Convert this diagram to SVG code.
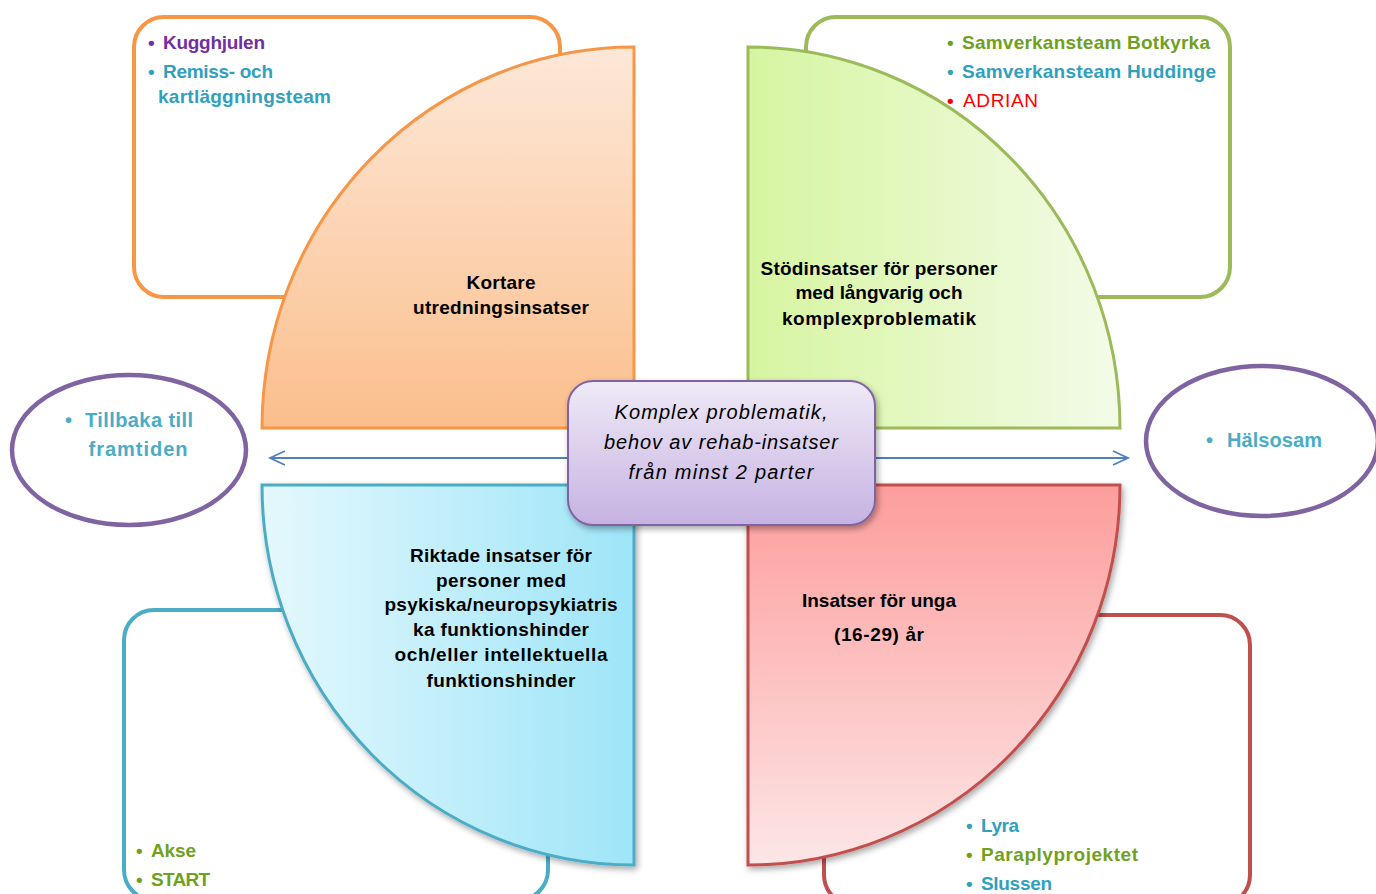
<svg xmlns="http://www.w3.org/2000/svg" width="1376" height="894" viewBox="0 0 1376 894">
<defs>
<style>
.t{font-family:"Liberation Sans",Arial,sans-serif;font-weight:bold;font-size:19px}
.q{font-family:"Liberation Sans",Arial,sans-serif;font-weight:bold;font-size:19px;fill:#000}
.c{font-family:"Liberation Sans",Arial,sans-serif;font-style:italic;font-size:20px;fill:#000}
.e{font-family:"Liberation Sans",Arial,sans-serif;font-weight:bold;font-size:20px;fill:#4BACC6}
.box{fill:#fff;stroke-width:4}
.ell{fill:#fff;stroke:#8064A2;stroke-width:4.5}
.purple{fill:#7030A0}.teal{fill:#31A0BE}.green{fill:#6FA11E}.red{fill:#FF0000}
</style>
<linearGradient id="gOr" x1="0" y1="0" x2="0" y2="1"><stop offset="0" stop-color="#FDE8D8"/><stop offset="1" stop-color="#FBBE8C"/></linearGradient>
<linearGradient id="gGr" x1="0" y1="0" x2="1" y2="0"><stop offset="0" stop-color="#D6F5A0"/><stop offset="1" stop-color="#F3FBE8"/></linearGradient>
<linearGradient id="gBl" x1="0" y1="0" x2="1" y2="0"><stop offset="0" stop-color="#E4F8FD"/><stop offset="1" stop-color="#9EE5F8"/></linearGradient>
<linearGradient id="gRd" x1="0" y1="0" x2="0" y2="1"><stop offset="0" stop-color="#FD9D9C"/><stop offset="1" stop-color="#FDE6E6"/></linearGradient>
<linearGradient id="gPu" x1="0" y1="0" x2="0" y2="1"><stop offset="0" stop-color="#EFEAF7"/><stop offset="1" stop-color="#C6B2E2"/></linearGradient>
<filter id="sh" x="-10%" y="-10%" width="125%" height="125%"><feDropShadow dx="2" dy="3" stdDeviation="3" flood-color="#000" flood-opacity="0.35"/></filter>
<marker id="ah" markerWidth="20" markerHeight="20" refX="16" refY="8" orient="auto-start-reverse" markerUnits="userSpaceOnUse"><path d="M1,1 L16,8 L1,15" fill="none" stroke="#4F81BD" stroke-width="1.8"/></marker>
</defs>

<g id="box-top-left"><rect class="box" x="134" y="17" width="426" height="280" rx="30" stroke="#F79646"/></g>
<g id="box-top-right"><rect class="box" x="806" y="17" width="424" height="280" rx="30" stroke="#9BBB59"/></g>
<g id="box-bottom-left"><rect class="box" x="124" y="610" width="424" height="290" rx="30" stroke="#4BACC6"/></g>
<g id="box-bottom-right"><rect class="box" x="824" y="615" width="426" height="290" rx="30" stroke="#C0504D"/></g>

<g id="quad-orange"><path d="M634 428 L262 428 A372 381 0 0 1 634 47 Z" fill="url(#gOr)" stroke="#F79646" stroke-width="3"/></g>
<g id="quad-green"><path d="M748 428 L748 47 A372 381 0 0 1 1120 428 Z" fill="url(#gGr)" stroke="#9BBB59" stroke-width="3"/></g>
<g id="quad-blue" filter="url(#sh)"><path d="M634 485 L634 865 A372 380 0 0 1 262 485 Z" fill="url(#gBl)" stroke="#4BACC6" stroke-width="3"/></g>
<g id="quad-red" filter="url(#sh)"><path d="M748 485 L1120 485 A372 380 0 0 1 748 865 Z" fill="url(#gRd)" stroke="#C0504D" stroke-width="3"/></g>

<g id="ellipse-left"><ellipse class="ell" cx="129" cy="450" rx="117" ry="75"/></g>
<g id="ellipse-right"><ellipse class="ell" cx="1262" cy="441" rx="116" ry="75"/></g>

<g id="connectors">
<line x1="568" y1="458" x2="270" y2="458" stroke="#4F81BD" stroke-width="1.8" marker-end="url(#ah)"/>
<line x1="875" y1="458" x2="1128" y2="458" stroke="#4F81BD" stroke-width="1.8" marker-end="url(#ah)"/>
</g>

<g id="center" filter="url(#sh)"><rect x="568" y="381" width="307" height="144" rx="25" fill="url(#gPu)" stroke="#8064A2" stroke-width="2"/></g>
<g id="center-text">
<text class="c" x="721" y="419" text-anchor="middle" textLength="213" lengthAdjust="spacing">Komplex problematik,</text>
<text class="c" x="721" y="449" text-anchor="middle" textLength="234" lengthAdjust="spacing">behov av rehab-insatser</text>
<text class="c" x="721" y="479" text-anchor="middle" textLength="185" lengthAdjust="spacing">från minst 2 parter</text>
</g>

<g id="text-top-left">
<text class="t purple" x="148" y="49">•</text>
<text class="t purple" x="163" y="49" textLength="102" lengthAdjust="spacing">Kugghjulen</text>
<text class="t teal" x="148" y="78">•</text>
<text class="t teal" x="163" y="78" textLength="110" lengthAdjust="spacing">Remiss- och</text>
<text class="t teal" x="158" y="103" textLength="173" lengthAdjust="spacing">kartläggningsteam</text>
</g>
<g id="text-top-right">
<text class="t green" x="947" y="49">•</text>
<text class="t green" x="962" y="49" textLength="248" lengthAdjust="spacing">Samverkansteam Botkyrka</text>
<text class="t teal" x="947" y="78">•</text>
<text class="t teal" x="962" y="78" textLength="254" lengthAdjust="spacing">Samverkansteam Huddinge</text>
<text class="t red" x="947" y="107">•</text>
<text class="t red" x="963" y="107" style="font-weight:normal" textLength="75" lengthAdjust="spacing">ADRIAN</text>
</g>
<g id="text-bottom-left">
<text class="t green" x="136" y="857">•</text>
<text class="t green" x="151" y="857" textLength="45" lengthAdjust="spacing">Akse</text>
<text class="t green" x="136" y="886">•</text>
<text class="t green" x="151" y="886" textLength="59" lengthAdjust="spacing">START</text>
</g>
<g id="text-bottom-right">
<text class="t teal" x="966" y="832">•</text>
<text class="t teal" x="981" y="832" textLength="38" lengthAdjust="spacing">Lyra</text>
<text class="t green" x="966" y="861">•</text>
<text class="t green" x="981" y="861" textLength="157" lengthAdjust="spacing">Paraplyprojektet</text>
<text class="t teal" x="966" y="890">•</text>
<text class="t teal" x="981" y="890" textLength="71" lengthAdjust="spacing">Slussen</text>
</g>

<g id="text-quad-orange">
<text class="q" x="501" y="289" text-anchor="middle" textLength="69" lengthAdjust="spacing">Kortare</text>
<text class="q" x="501" y="314" text-anchor="middle" textLength="176" lengthAdjust="spacing">utredningsinsatser</text>
</g>
<g id="text-quad-green">
<text class="q" x="879" y="275" text-anchor="middle" textLength="237" lengthAdjust="spacing">Stödinsatser för personer</text>
<text class="q" x="879" y="299" text-anchor="middle" textLength="167" lengthAdjust="spacing">med långvarig och</text>
<text class="q" x="879" y="325" text-anchor="middle" textLength="194" lengthAdjust="spacing">komplexproblematik</text>
</g>
<g id="text-quad-blue">
<text class="q" x="501" y="562" text-anchor="middle" textLength="182" lengthAdjust="spacing">Riktade insatser för</text>
<text class="q" x="501" y="587" text-anchor="middle" textLength="130" lengthAdjust="spacing">personer med</text>
<text class="q" x="501" y="611" text-anchor="middle" textLength="233" lengthAdjust="spacing">psykiska/neuropsykiatris</text>
<text class="q" x="501" y="636" text-anchor="middle" textLength="176" lengthAdjust="spacing">ka funktionshinder</text>
<text class="q" x="501" y="661" text-anchor="middle" textLength="213" lengthAdjust="spacing">och/eller intellektuella</text>
<text class="q" x="501" y="687" text-anchor="middle" textLength="149" lengthAdjust="spacing">funktionshinder</text>
</g>
<g id="text-quad-red">
<text class="q" x="879" y="607" text-anchor="middle" textLength="154" lengthAdjust="spacing">Insatser för unga</text>
<text class="q" x="879" y="641" text-anchor="middle" textLength="90" lengthAdjust="spacing">(16-29) år</text>
</g>
<g id="text-ellipses">
<text class="e" x="65" y="427">•</text>
<text class="e" x="85" y="427" textLength="108" lengthAdjust="spacing">Tillbaka till</text>
<text class="e" x="138" y="456" text-anchor="middle" textLength="99" lengthAdjust="spacing">framtiden</text>
<text class="e" x="1206" y="447">•</text>
<text class="e" x="1227" y="447" textLength="95" lengthAdjust="spacing">Hälsosam</text>
</g>
</svg>
